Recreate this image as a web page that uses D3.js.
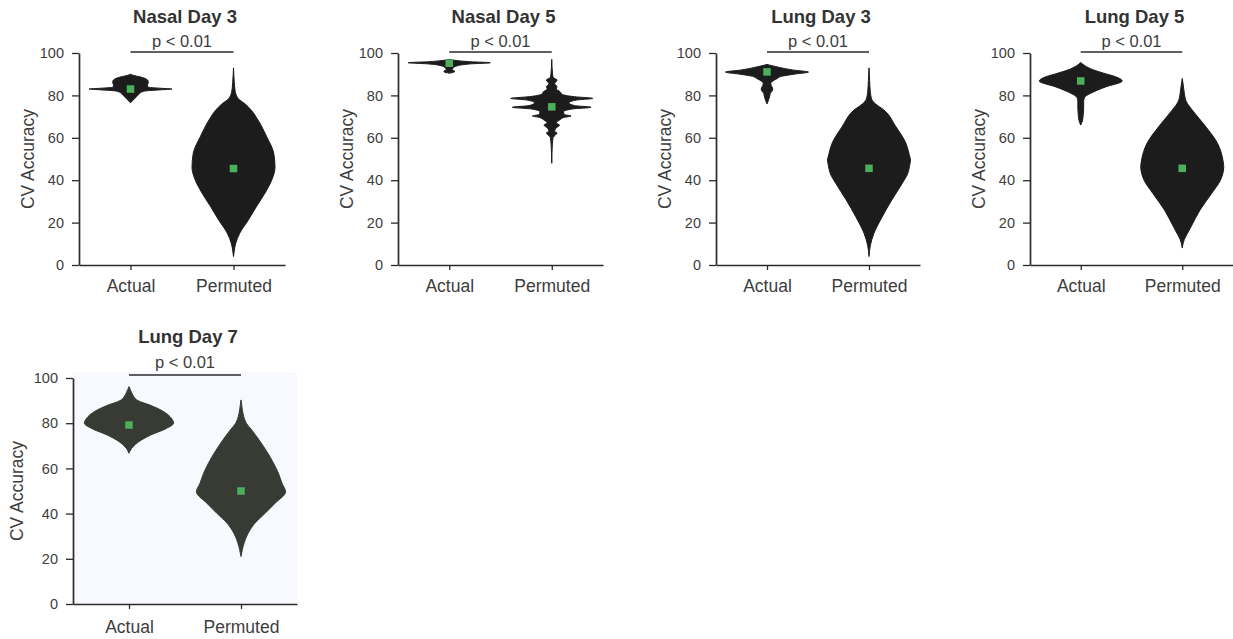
<!DOCTYPE html>
<html>
<head>
<meta charset="utf-8">
<script src="https://cdn.jsdelivr.net/npm/d3@7"></script>
<style>
  html, body { margin: 0; padding: 0; background: #ffffff; }
  svg { display: block; font-family: "Liberation Sans", Arial, sans-serif; }
</style>
</head>
<body>
<svg id="chart" width="1233" height="639"></svg>
<script>
// ---- data ----
const panelTitles = ["Nasal Day 3", "Nasal Day 5", "Lung Day 3", "Lung Day 5", "Lung Day 7"];
const groups = ["Actual", "Permuted"];
const yTicks = [0, 20, 40, 60, 80, 100];
const pLabels = ["p < 0.01", "p < 0.01", "p < 0.01", "p < 0.01", "p < 0.01"];
const yLabel = "CV Accuracy";

// mean CV accuracy (green markers)
const actualMeans   = [83, 95.2, 91.1, 86.8, 79.2];
const permutedMeans = [45.5, 74.6, 45.6, 45.6, 50];

// violin outlines: [accuracy, relative half-width]
const nasalDay3Actual = [[76.5,0],[77.5,0.05],[78.5,0.1],[79.5,0.15],[80.5,0.2],[81.5,0.26],[82.2,0.4],[82.6,0.7],[83,1],[83.4,0.7],[83.9,0.42],[85,0.41],[86,0.43],[87,0.42],[88,0.35],[88.8,0.22],[89.4,0.08],[90,0]];
const nasalDay3Permuted = [[4,0],[7,0.02],[10,0.05],[15,0.15],[21,0.35],[27.5,0.55],[34,0.76],[40,0.92],[46,1],[52.7,0.97],[60.5,0.8],[68.4,0.59],[73,0.43],[76.3,0.26],[78,0.14],[80,0.07],[82,0.04],[86,0.02],[93,0]];

const nasalDay5Actual = [[90.5,0],[91,0.12],[91.5,0.13],[92,0.07],[93,0.1],[94,0.2],[94.9,0.55],[95.4,1],[95.9,0.5],[96.4,0.2],[97,0]];
const nasalDay5Permuted = [[48,0],[55,0.01],[60,0.03],[61.5,0.1],[62.3,0.13],[63,0.07],[64.5,0.1],[66,0.19],[67,0.11],[68.5,0.2],[69.6,0.3],[70.3,0.47],[71,0.3],[72.3,0.29],[73.6,0.5],[74.4,0.96],[75.2,0.55],[76.5,0.42],[77.8,0.6],[78.6,1],[79.4,0.55],[80.5,0.25],[81.8,0.2],[83,0.11],[84.1,0.13],[85.5,0.07],[87.3,0.13],[88.3,0.04],[90,0.02],[97,0]];

const lungDay3Actual = [[76,0],[78,0.04],[80,0.07],[81,0.08],[82,0.12],[83,0.14],[84,0.12],[85.5,0.09],[86.5,0.12],[88,0.25],[89,0.35],[90,0.65],[91,1],[92,0.62],[93.2,0.3],[94,0.12],[94.6,0]];
const lungDay3Permuted = [[4,0],[9,0.03],[15,0.12],[22.8,0.32],[30.7,0.55],[38.5,0.8],[43,0.93],[47,0.98],[49.5,1],[52,0.97],[57.4,0.89],[65.2,0.65],[73.1,0.36],[76,0.16],[78,0.07],[82,0.03],[87,0.015],[93,0]];

const lungDay5Actual = [[66,0],[68,0.04],[71,0.06],[74.5,0.07],[77,0.07],[79,0.09],[81,0.24],[84,0.6],[86.8,1],[88.8,0.84],[90.5,0.55],[92,0.31],[94,0.1],[95.5,0]];
const lungDay5Permuted = [[8,0],[12,0.05],[14,0.1],[18,0.21],[26,0.43],[33.8,0.71],[40,0.92],[46.4,1],[49.5,0.98],[57.4,0.85],[65.2,0.57],[73.1,0.24],[77,0.1],[81,0.05],[84,0.03],[88,0]];

const lungDay7Actual = [[66.7,0],[69.6,0.09],[71.8,0.22],[74.8,0.49],[77.7,0.84],[80,1],[82.2,0.95],[85.1,0.78],[88,0.47],[90,0.2],[91.7,0.11],[93.5,0.06],[96.2,0]];
const lungDay7Permuted = [[21,0],[24,0.03],[27,0.07],[31.3,0.16],[35.7,0.31],[40.1,0.54],[44.5,0.76],[49.7,1],[53.4,0.92],[57.8,0.84],[62.3,0.73],[69.6,0.51],[77,0.24],[80,0.12],[83,0.06],[86,0.03],[90.3,0]];

const actualViolins   = [nasalDay3Actual, nasalDay5Actual, lungDay3Actual, lungDay5Actual, lungDay7Actual];
const permutedViolins = [nasalDay3Permuted, nasalDay5Permuted, lungDay3Permuted, lungDay5Permuted, lungDay7Permuted];

// ---- layout ----
const layout = [
  { x0: 79,   x1: 285,  top: 53,  bottom: 265, halfW: 41.5, fill: "#1c1c1c", bg: null, labelOff: 51, titleOff: 30, pOff: 6, barOff: 1 },
  { x0: 398,  x1: 603,  top: 53,  bottom: 265, halfW: 41,   fill: "#1c1c1c", bg: null, labelOff: 51, titleOff: 30, pOff: 6, barOff: 1 },
  { x0: 716,  x1: 920,  top: 53,  bottom: 265, halfW: 41.5, fill: "#1c1c1c", bg: null, labelOff: 51, titleOff: 30, pOff: 6, barOff: 1 },
  { x0: 1030, x1: 1233, top: 53,  bottom: 265, halfW: 41.5, fill: "#1c1c1c", bg: null, labelOff: 51, titleOff: 30, pOff: 6, barOff: 1 },
  { x0: 73,   x1: 297,  top: 378, bottom: 604, halfW: 44.6, fill: "#383b34", bg: "#f8f9fe", labelOff: 56, titleOff: 35, pOff: 10, barOff: 3 }
];

const textColor = "#3d3d3d";
const axisColor = "#2b2b2b";
const meanColor = "#4caf5c";

const svg = d3.select("#chart");

panelTitles.forEach((title, i) => {
  const L = layout[i];
  const g = svg.append("g");

  const y = d3.scaleLinear().domain([0, 100]).range([L.bottom, L.top]);
  const x = d3.scalePoint().domain(groups).range([L.x0, L.x1]).padding(0.5);
  const w = d3.scaleLinear().domain([0, 1]).range([0, L.halfW]);

  if (L.bg) {
    g.append("rect")
      .attr("x", L.x0).attr("y", L.top - 6)
      .attr("width", L.x1 - L.x0).attr("height", L.bottom - L.top + 6)
      .attr("fill", L.bg);
  }

  // violins
  const series = [actualViolins[i], permutedViolins[i]];
  const means = [actualMeans[i], permutedMeans[i]];
  groups.forEach((grp, k) => {
    const cx = x(grp);
    const area = d3.area()
      .curve(d3.curveMonotoneY)
      .y(d => y(d[0]))
      .x0(d => cx - w(d[1]))
      .x1(d => cx + w(d[1]));
    g.append("path")
      .datum(series[k])
      .attr("d", area)
      .attr("fill", L.fill)
      .attr("stroke", L.fill)
      .attr("stroke-width", 1)
      .attr("stroke-linejoin", "round");
    g.append("rect")
      .attr("x", cx - 3.75).attr("y", y(means[k]) - 3.75)
      .attr("width", 7.5).attr("height", 7.5)
      .attr("fill", meanColor);
  });

  // y axis
  const yAxis = g.append("g")
    .attr("transform", `translate(${L.x0},0)`)
    .call(d3.axisLeft(y).tickValues(yTicks).tickSize(7).tickPadding(8).tickSizeOuter(0));
  // x axis
  const xAxis = g.append("g")
    .attr("transform", `translate(0,${L.bottom})`)
    .call(d3.axisBottom(x).tickSize(5).tickPadding(i === 4 ? 12 : 10).tickSizeOuter(0));

  [yAxis, xAxis].forEach(ax => {
    ax.select(".domain").attr("stroke", axisColor).attr("stroke-width", 1.7);
    ax.selectAll(".tick line").attr("stroke", axisColor).attr("stroke-width", 1.3);
    ax.selectAll(".tick text").attr("fill", textColor).attr("font-family", "Liberation Sans, Arial, sans-serif");
  });
  yAxis.selectAll(".tick text").attr("font-size", 14.5);
  xAxis.selectAll(".tick text").attr("font-size", 17.5);

  // y axis title
  const midY = (L.top + L.bottom) / 2;
  g.append("text")
    .attr("transform", `translate(${L.x0 - L.labelOff},${midY}) rotate(-90)`)
    .attr("text-anchor", "middle")
    .attr("dy", "0.35em")
    .attr("font-size", 17.5)
    .attr("fill", textColor)
    .text(yLabel);

  // panel title
  const midX = (x(groups[0]) + x(groups[1])) / 2;
  g.append("text")
    .attr("x", midX + 3).attr("y", L.top - L.titleOff)
    .attr("text-anchor", "middle")
    .attr("font-size", 18.5)
    .attr("font-weight", "bold")
    .attr("fill", "#333")
    .text(title);

  // significance bracket
  g.append("line")
    .attr("x1", x(groups[0])).attr("x2", x(groups[1]))
    .attr("y1", L.top - L.barOff).attr("y2", L.top - L.barOff)
    .attr("stroke", axisColor).attr("stroke-width", 1.7);
  g.append("text")
    .attr("x", midX).attr("y", L.top - L.pOff)
    .attr("text-anchor", "middle")
    .attr("font-size", 16.5)
    .attr("fill", textColor)
    .text(pLabels[i]);
});
</script>
</body>
</html>
